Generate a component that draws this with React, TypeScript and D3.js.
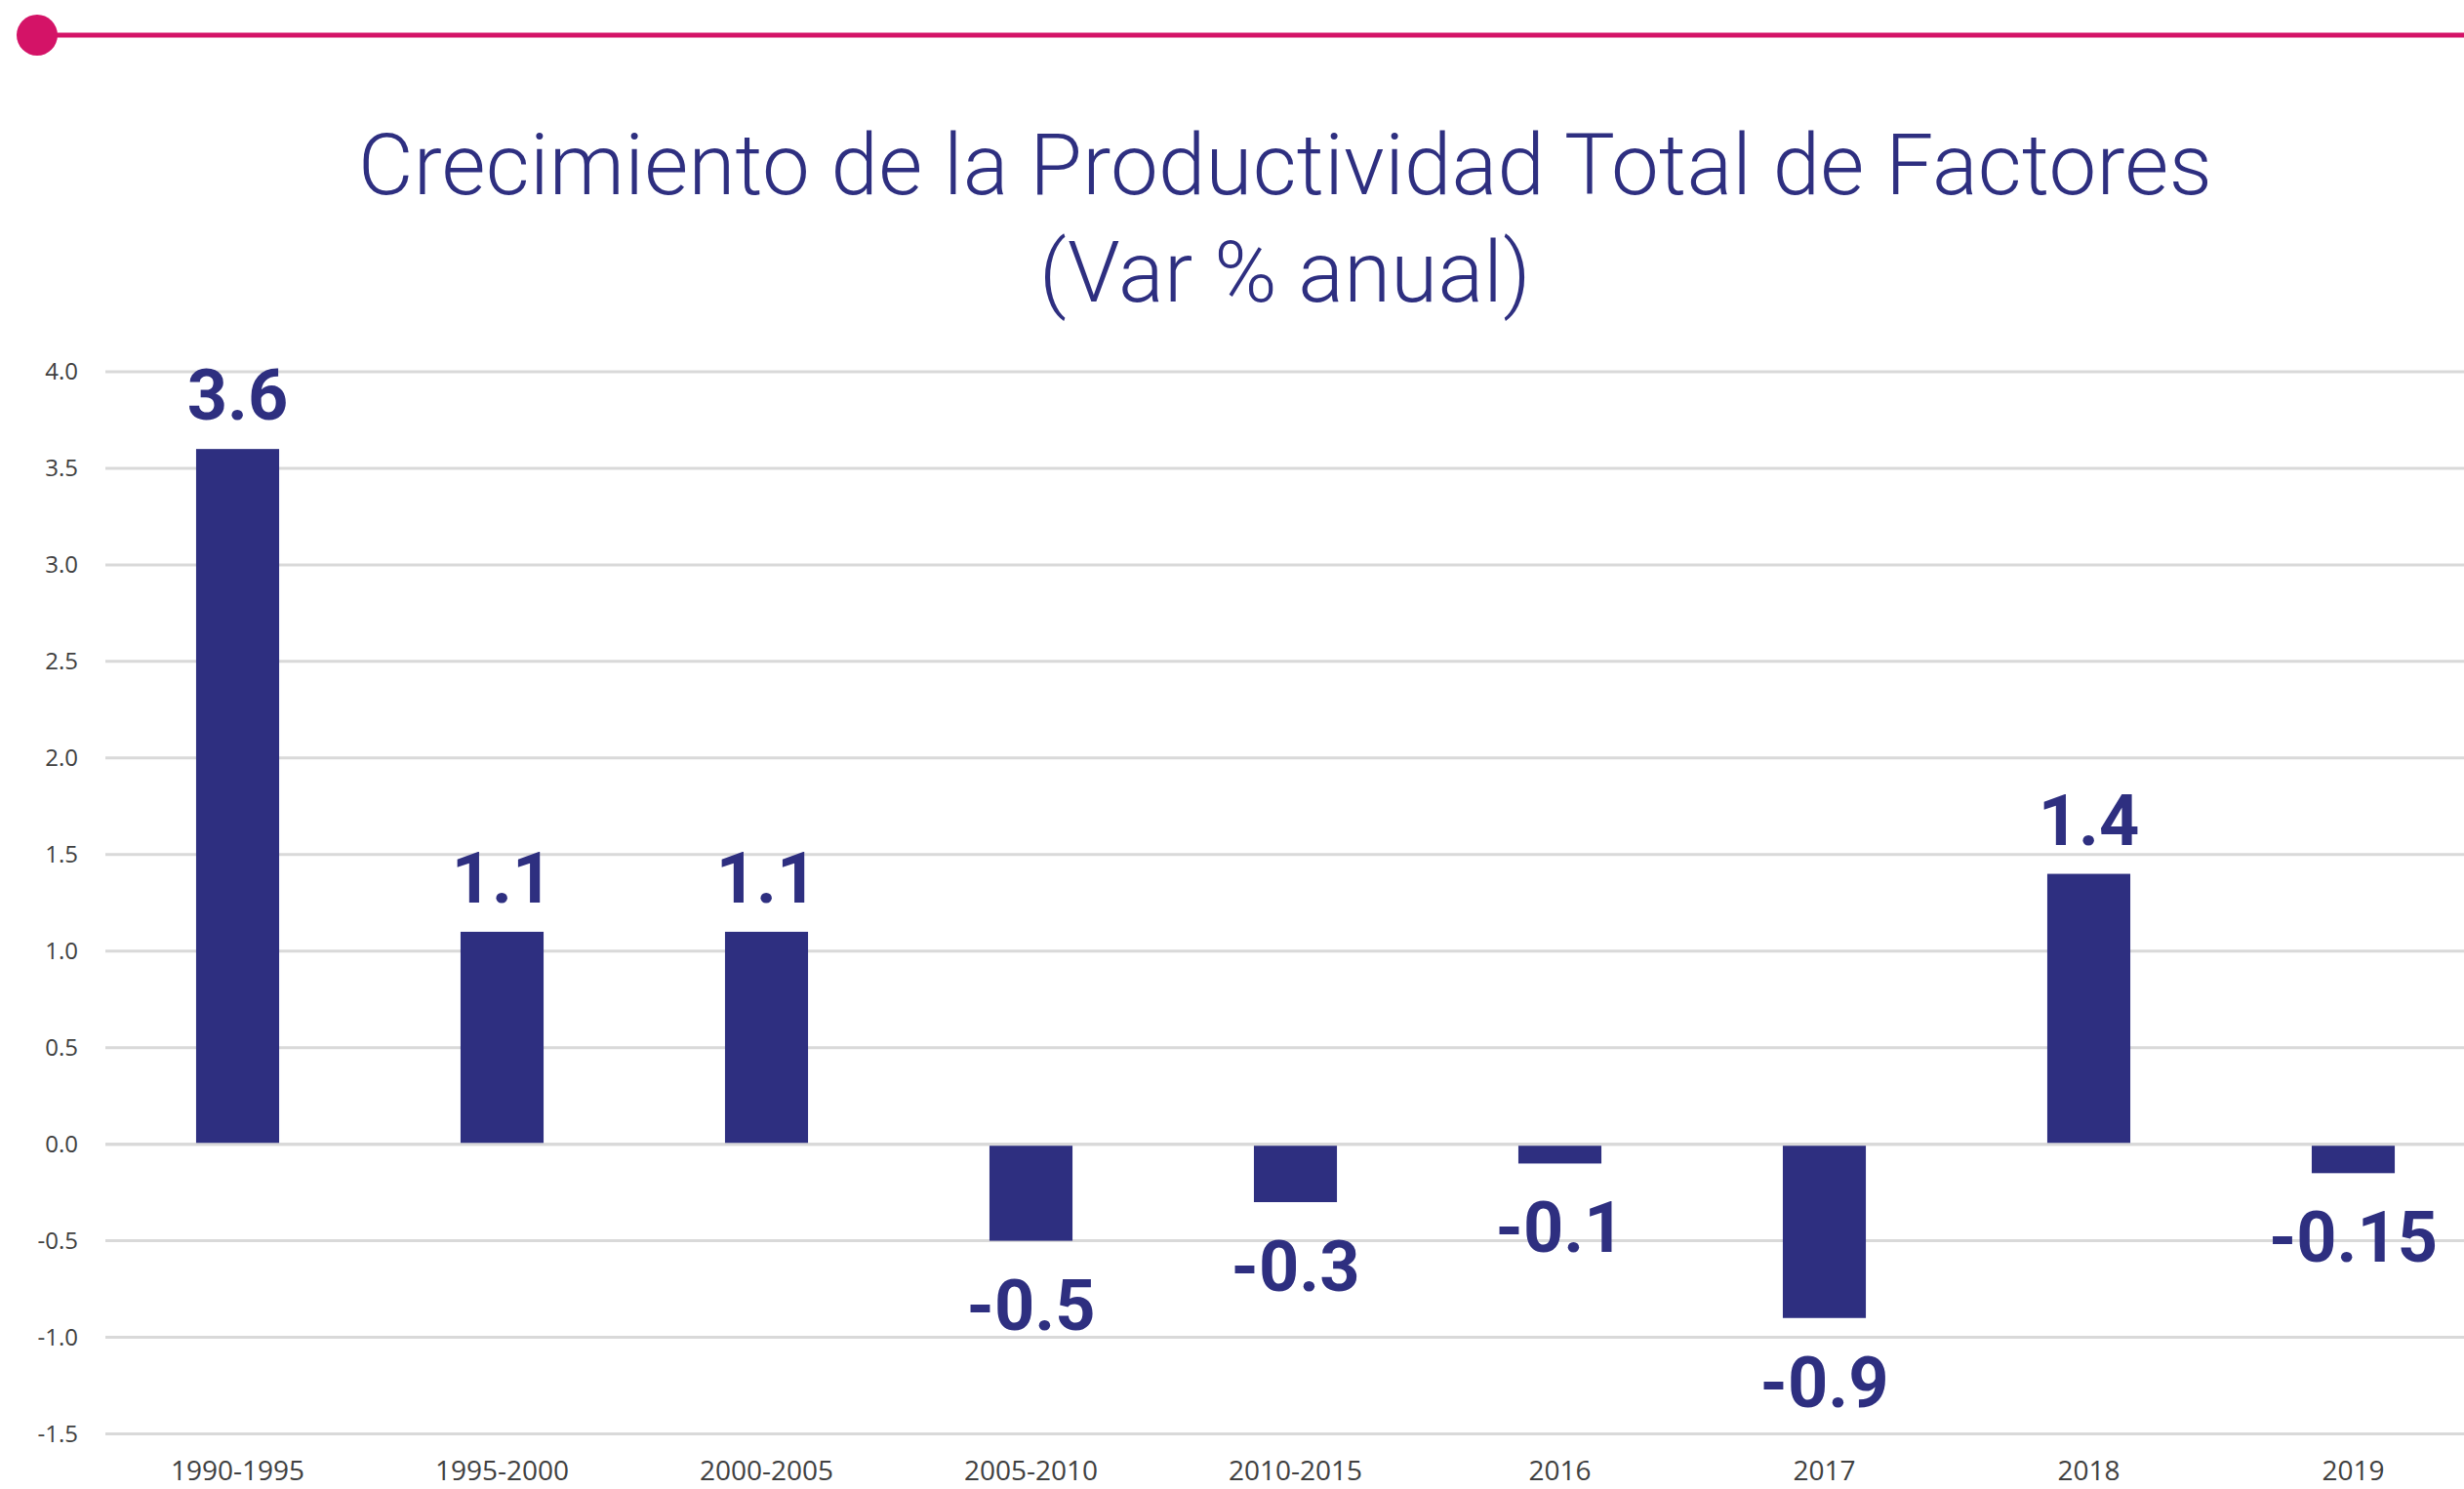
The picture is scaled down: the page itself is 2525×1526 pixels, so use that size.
import * as d3 from "d3";
import { ReactElement } from "react";

// chart data
const categories = ["1990-1995", "1995-2000", "2000-2005", "2005-2010", "2010-2015", "2016", "2017", "2018", "2019"];
const values = [3.6, 1.1, 1.1, -0.5, -0.3, -0.1, -0.9, 1.4, -0.15];
const yTicks = [-1.5, -1.0, -0.5, 0, 0.5, 1.0, 1.5, 2.0, 2.5, 3.0, 3.5, 4.0];
const titleLines = ["Crecimiento de la Productividad Total de Factores", "(Var % anual)"];

const width = 2525;
const height = 1526;
const navy = "#2E2F80";
const pink = "#D41367";
const gridColor = "#D9D9D9";

const App = (): ReactElement => {
    // band scale runs past the right edge, the original picture is cropped there
    const xScale = d3.scaleBand<string>()
        .domain(categories)
        .range([108, 2547])
        .paddingInner(0.686)
        .paddingOuter(0.343);

    const yScale = d3.scaleLinear()
        .domain([-1.5, 4.0])
        .range([1469.5, 381]);

    const y0 = yScale(0);

    return (
        <div style={{ position: "absolute", left: 0, top: 0 }}>
            <svg width={width} height={height} style={{ display: "block", background: "#fff" }}>
                {/* header line with dot */}
                <line x1={38} x2={width} y1={36} y2={36} stroke={pink} strokeWidth={5} />
                <circle cx={38} cy={36} r={21} fill={pink} />

                {/* title */}
                <text textAnchor="middle" fill={navy} fontFamily="Roboto" fontWeight={300} fontSize={87}
                    letterSpacing={0.3}>
                    <tspan x={1317} y={199}>{titleLines[0]}</tspan>
                    <tspan x={1317} y={309}>{titleLines[1]}</tspan>
                </text>

                {/* grid + y ticks */}
                {yTicks.map((t) => (
                    <g key={"t" + t}>
                        <line x1={108} x2={width} y1={yScale(t)} y2={yScale(t)} stroke={gridColor} strokeWidth={3} />
                        <text x={80} y={yScale(t)} dy="0.35em" textAnchor="end" fill="#404040"
                            fontFamily="Open Sans" fontSize={24}>
                            {t.toFixed(1)}
                        </text>
                    </g>
                ))}

                {/* bars */}
                {values.map((v, i) => (
                    <rect
                        key={"b" + i}
                        x={xScale(categories[i])!}
                        y={Math.min(yScale(v), y0)}
                        width={xScale.bandwidth()}
                        height={Math.abs(yScale(v) - y0)}
                        fill={navy}
                    />
                ))}

                {/* zero line sits on top of the bars */}
                <line x1={108} x2={width} y1={y0} y2={y0} stroke={gridColor} strokeWidth={3} />

                {/* value labels */}
                {values.map((v, i) => (
                    <text
                        key={"v" + i}
                        x={xScale(categories[i])! + xScale.bandwidth() / 2}
                        y={v >= 0 ? yScale(v) - 30 : yScale(v) + 91}
                        textAnchor="middle"
                        fill={navy}
                        fontFamily="Roboto"
                        fontWeight={700}
                        fontSize={72}
                    >
                        {String(v)}
                    </text>
                ))}

                {/* category labels */}
                {categories.map((c) => (
                    <text key={"c" + c} x={xScale(c)! + xScale.bandwidth() / 2} y={1517} textAnchor="middle"
                        fill="#404040" fontFamily="Open Sans" fontSize={28}>
                        {c}
                    </text>
                ))}
            </svg>
        </div>
    );
};

export default App;
